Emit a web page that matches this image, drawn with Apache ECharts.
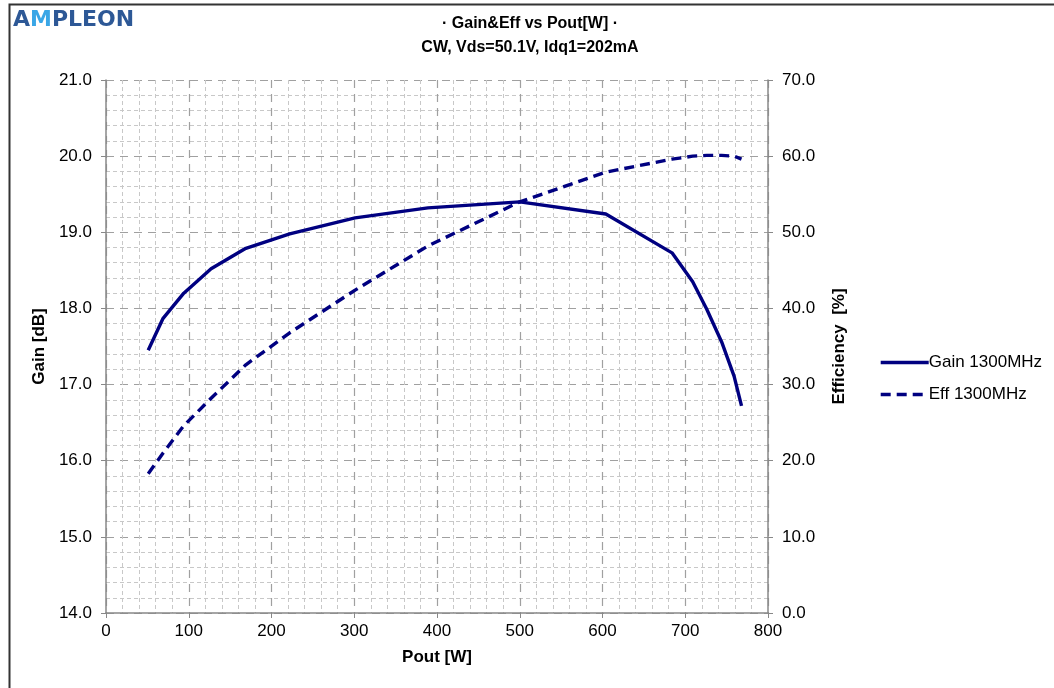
<!DOCTYPE html>
<html>
<head>
<meta charset="utf-8">
<script src="https://cdn.jsdelivr.net/npm/echarts@6/dist/echarts.min.js"></script>
<style>
html,body{margin:0;padding:0;background:#fff;}
#main{width:1054px;height:688px;}
</style>
</head>
<body>
<div id="main"></div>
<script>
const poutW = [51, 69, 94, 127, 169, 222, 301, 389, 500, 604, 684, 709, 726, 744, 759, 768];
const gainDb = [17.45, 17.87, 18.20, 18.52, 18.79, 18.98, 19.19, 19.32, 19.40, 19.24, 18.73, 18.35, 17.99, 17.56, 17.11, 16.72];
const effPct = [18.3, 21.0, 24.6, 28.2, 32.6, 36.8, 42.4, 48.2, 54.0, 57.9, 59.6, 60.0, 60.1, 60.1, 60.0, 59.6];
const titleLines = ['· Gain&Eff vs Pout[W] ·', 'CW, Vds=50.1V, Idq1=202mA'];
const seriesNames = ['Gain 1300MHz', 'Eff 1300MHz'];

const font = 'Liberation Sans, Arial, sans-serif';
const navy = '#000080';
const fs = 17;
const chart = echarts.init(document.getElementById('main'), null, {renderer: 'canvas'});

const axisLineStyle = {show: true, lineStyle: {color: '#888', width: 1.5}};
const majorSplit = {show: true, lineStyle: {color: '#a0a0a0', type: [8, 6], width: 1.2}};
const minorSplit = {show: true, lineStyle: {color: '#c8c8c8', type: [4, 3], width: 1}};

chart.setOption({
  backgroundColor: '#fff',
  animation: false,
  title: {
    text: titleLines.join('\n'),
    left: 525, textAlign: 'center', top: 7,
    textStyle: {fontFamily: font, fontSize: 16, fontWeight: 'bold', color: '#000', lineHeight: 24}
  },
  legend: {
    orient: 'vertical', left: 874, top: 349, itemWidth: 48, itemHeight: 14, itemGap: 15,
    textStyle: {fontFamily: font, fontSize: fs, color: '#000', padding: [0, 0, 0, -5]},
    itemStyle: {opacity: 0},
    lineStyle: {width: 3.4},
    data: seriesNames
  },
  graphic: [
    {type: 'rect', shape: {x: 9.5, y: 4.5, width: 1100, height: 720}, style: {fill: null, stroke: '#333', lineWidth: 2}, silent: true, z: 100},
    {type: 'text', left: 13, top: 9, style: {
      rich: {a: {fill: '#2d5896', fontSize: 22, fontWeight: 'bold', fontFamily: 'DejaVu Sans, sans-serif'},
             m: {fill: '#3aa6e6', fontSize: 22, fontWeight: 'bold', fontFamily: 'DejaVu Sans, sans-serif'}},
      text: '{a|A}{m|M}{a|PLEON}'}}
  ],
  grid: {left: 106, right: 286, top: 80, bottom: 75, containLabel: false},
  xAxis: {
    type: 'value', min: 0, max: 800, interval: 100,
    name: 'Pout [W]', nameLocation: 'middle', nameGap: 36,
    nameTextStyle: {fontFamily: font, fontSize: fs, fontWeight: 'bold', color: '#000'},
    axisLine: axisLineStyle,
    axisTick: {show: true, length: 5, lineStyle: {color: '#888'}},
    axisLabel: {fontFamily: font, fontSize: fs, color: '#000', margin: 10},
    splitLine: majorSplit,
    minorTick: {show: false, splitNumber: 5},
    minorSplitLine: minorSplit
  },
  yAxis: [
    {
      type: 'value', min: 14, max: 21, interval: 1, position: 'left',
      name: 'Gain [dB]', nameLocation: 'middle', nameGap: 56,
      nameTextStyle: {fontFamily: font, fontSize: fs, fontWeight: 'bold', color: '#000'},
      axisLine: axisLineStyle,
      axisTick: {show: true, length: 5, lineStyle: {color: '#888'}},
      axisLabel: {fontFamily: font, fontSize: fs, color: '#000', margin: 14, formatter: v => v.toFixed(1)},
      splitLine: majorSplit,
      minorTick: {show: false, splitNumber: 5},
      minorSplitLine: minorSplit
    },
    {
      type: 'value', min: 0, max: 70, interval: 10, position: 'right',
      name: 'Efficiency  [%]', nameLocation: 'middle', nameGap: 63,
      nameTextStyle: {fontFamily: font, fontSize: fs, fontWeight: 'bold', color: '#000'},
      axisLine: axisLineStyle,
      axisTick: {show: true, length: 5, lineStyle: {color: '#888'}},
      axisLabel: {fontFamily: font, fontSize: fs, color: '#000', margin: 14, formatter: v => v.toFixed(1)},
      splitLine: {show: false}
    }
  ],
  series: [
    {
      name: seriesNames[0], type: 'line', yAxisIndex: 0, symbol: 'none',
      lineStyle: {color: navy, width: 3.4}, itemStyle: {color: navy},
      data: poutW.map((p, i) => [p, gainDb[i]])
    },
    {
      name: seriesNames[1], type: 'line', yAxisIndex: 1, symbol: 'none',
      lineStyle: {color: navy, width: 3.4, type: [10, 6]}, itemStyle: {color: navy},
      data: poutW.map((p, i) => [p, effPct[i]])
    }
  ]
});
</script>
</body>
</html>
